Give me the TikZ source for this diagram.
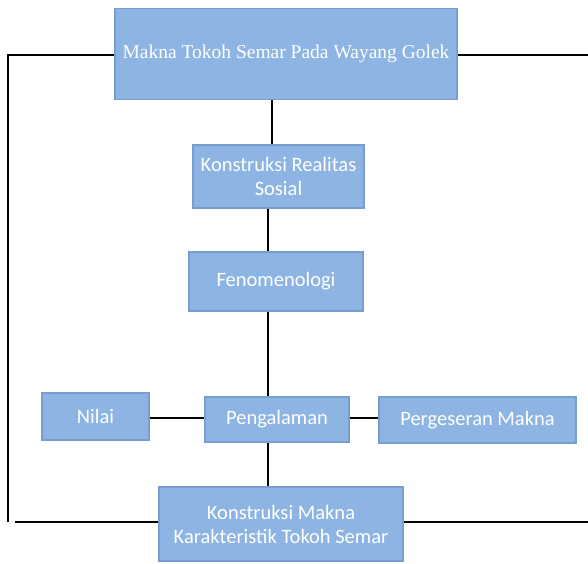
\documentclass[tikz,border=0pt]{standalone}
\usepackage{fontspec}
\setmainfont{Liberation Serif}
\newfontfamily\calfont{Carlito}
\definecolor{boxfill}{RGB}{141,180,226}
\definecolor{boxedge}{RGB}{118,158,208}
\begin{document}
\begin{tikzpicture}[x=1pt,y=-1pt,
  bx/.style={draw=boxedge,line width=1.2pt,fill=boxfill,text=white,align=center,inner sep=0pt},
  sf/.style={font=\calfont\fontsize{20.5}{24}\selectfont},
  ln/.style={line width=1.6pt,black}]
\useasboundingbox[fill=white] (0,0) rectangle (588,563);
\node[bx,minimum width=342pt,minimum height=91pt,font=\fontsize{19.5}{22}\selectfont] (top) at (286,54) {Makna Tokoh Semar Pada Wayang Golek};
\node[bx,sf,minimum width=171pt,minimum height=63pt] (krs) at (278.5,176.5) {Konstruksi Realitas\\Sosial};
\node[bx,sf,minimum width=174pt,minimum height=59pt] (fen) at (276,281.5) {Fenomenologi};
\node[bx,sf,minimum width=144pt,minimum height=45pt] (pen) at (277,419.5) {Pengalaman};
\node[bx,sf,minimum width=107pt,minimum height=47pt] (nil) at (95.5,416.5) {Nilai};
\node[bx,sf,minimum width=197pt,minimum height=46pt] (per) at (477.5,420) {Pergeseran Makna};
\node[bx,sf,minimum width=244pt,minimum height=74pt] (kmk) at (281,524) {Konstruksi Makna\\Karakteristik Tokoh Semar};
\coordinate (tl) at (8,55);
\coordinate (bl) at (8,522);
\coordinate (bl2) at (15,522);
\coordinate (tr) at (588,55);
\coordinate (br) at (588,522);
\coordinate (xa) at (272,0);
\coordinate (xb) at (268,0);
\coordinate (ym) at (0,418);
\draw[ln] (top.west |- tl) -- (tl) -- (bl);
\draw[ln] (bl2) -- (kmk.west |- bl);
\draw[ln] (top.east |- tr) -- (tr);
\draw[ln] (kmk.east |- br) -- (br);
\draw[ln] (top.south -| xa) -- (krs.north -| xa);
\draw[ln] (krs.south -| xb) -- (fen.north -| xb);
\draw[ln] (fen.south -| xb) -- (pen.north -| xb);
\draw[ln] (pen.south -| xb) -- (kmk.north -| xb);
\draw[ln] (nil.east |- ym) -- (pen.west |- ym);
\draw[ln] (pen.east |- ym) -- (per.west |- ym);
\end{tikzpicture}
\end{document}
